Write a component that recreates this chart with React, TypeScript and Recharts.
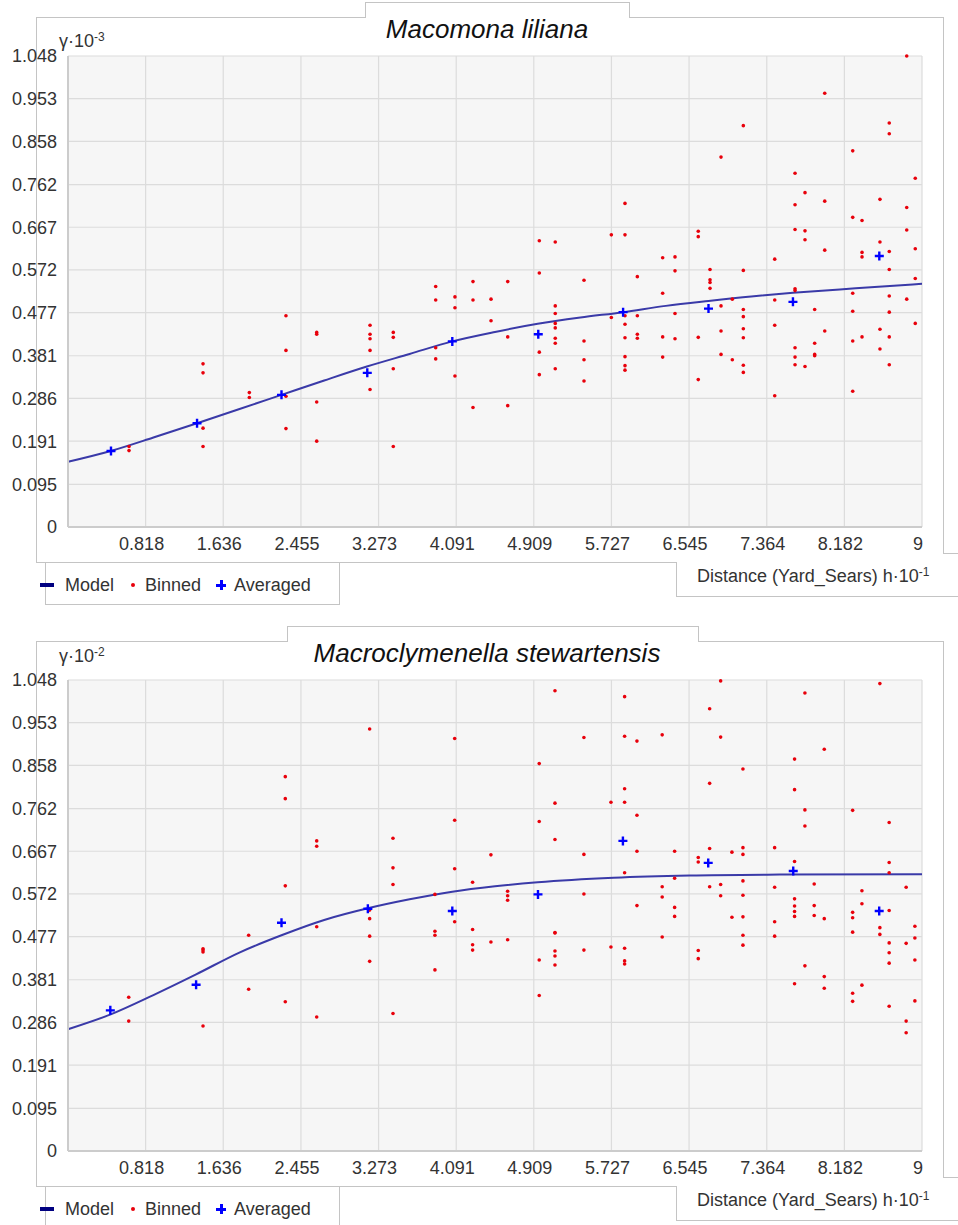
import { ComposedChart, Line, Scatter, XAxis, YAxis, CartesianGrid } from "recharts"

// ticks shared by both panels
const xTicks = [0.818, 1.636, 2.455, 3.273, 4.091, 4.909, 5.727, 6.545, 7.364, 8.182, 9]
const yTicks = [0, 0.095, 0.191, 0.286, 0.381, 0.477, 0.572, 0.667, 0.762, 0.858, 0.953, 1.048]

// Macomona liliana (γ·10^-3)
const macomonaModel = [
    [0, 0.145], [0.45, 0.169], [0.9, 0.199], [1.36, 0.231], [1.8, 0.262], [2.25, 0.294],
    [2.7, 0.326], [3.15, 0.357], [3.6, 0.385], [4.05, 0.413], [4.5, 0.434], [4.95, 0.452],
    [5.4, 0.466], [5.85, 0.478], [6.3, 0.492], [6.75, 0.503], [7.2, 0.513], [7.64, 0.521],
    [8.3, 0.531], [9, 0.541],
]
const macomonaAveraged = [
    [0.453, 0.169], [1.36, 0.231], [2.25, 0.294], [3.154, 0.343], [4.05, 0.413],
    [4.956, 0.429], [5.85, 0.478], [6.75, 0.486], [7.64, 0.501], [8.55, 0.603],
]
const macomonaBinned = [
    [0.643, 0.179], [0.643, 0.17],
    [1.423, 0.363], [1.423, 0.343], [1.423, 0.22], [1.423, 0.179],
    [1.911, 0.299], [1.911, 0.288],
    [2.297, 0.47], [2.297, 0.393], [2.297, 0.291], [2.297, 0.219],
    [2.621, 0.433], [2.621, 0.429], [2.621, 0.278], [2.621, 0.191],
    [3.183, 0.449], [3.183, 0.429], [3.183, 0.419], [3.183, 0.393], [3.183, 0.306],
    [3.428, 0.433], [3.428, 0.422], [3.428, 0.352], [3.428, 0.179],
    [3.875, 0.535], [3.875, 0.505], [3.875, 0.399], [3.875, 0.374],
    [4.078, 0.512], [4.078, 0.488], [4.078, 0.336],
    [4.268, 0.546], [4.268, 0.505], [4.268, 0.266],
    [4.458, 0.507], [4.458, 0.459],
    [4.634, 0.546], [4.634, 0.423], [4.634, 0.27],
    [4.967, 0.637], [4.967, 0.565], [4.967, 0.389], [4.967, 0.339],
    [5.135, 0.634], [5.135, 0.492], [5.135, 0.475], [5.135, 0.453], [5.135, 0.443], [5.135, 0.42], [5.135, 0.409], [5.135, 0.352],
    [5.438, 0.549], [5.438, 0.414], [5.438, 0.372], [5.438, 0.325],
    [5.726, 0.65], [5.726, 0.466],
    [5.87, 0.72], [5.87, 0.65], [5.87, 0.47], [5.87, 0.451], [5.87, 0.421], [5.87, 0.379], [5.87, 0.359], [5.87, 0.349],
    [6.0, 0.557], [6.0, 0.47], [6.0, 0.429], [6.0, 0.42],
    [6.267, 0.599], [6.267, 0.52], [6.267, 0.423], [6.267, 0.378],
    [6.397, 0.601], [6.397, 0.57], [6.397, 0.475], [6.397, 0.419],
    [6.642, 0.658], [6.642, 0.646], [6.642, 0.422], [6.642, 0.328],
    [6.766, 0.573], [6.766, 0.55], [6.766, 0.544], [6.766, 0.531],
    [6.882, 0.823], [6.882, 0.492], [6.882, 0.436], [6.882, 0.384],
    [7.001, 0.507], [7.001, 0.372],
    [7.117, 0.893], [7.117, 0.571], [7.117, 0.484], [7.117, 0.468], [7.117, 0.441], [7.117, 0.421], [7.117, 0.36], [7.117, 0.344],
    [7.448, 0.596], [7.448, 0.505], [7.448, 0.449], [7.448, 0.292],
    [7.662, 0.787], [7.662, 0.717], [7.662, 0.662], [7.662, 0.53], [7.662, 0.526], [7.662, 0.399], [7.662, 0.378], [7.662, 0.361],
    [7.767, 0.744], [7.767, 0.659], [7.767, 0.639], [7.767, 0.357],
    [7.869, 0.484], [7.869, 0.409], [7.869, 0.384], [7.869, 0.381],
    [7.975, 0.965], [7.975, 0.725], [7.975, 0.616], [7.975, 0.436],
    [8.27, 0.837], [8.27, 0.689], [8.27, 0.52], [8.27, 0.48], [8.27, 0.414], [8.27, 0.302],
    [8.368, 0.682], [8.368, 0.611], [8.368, 0.601], [8.368, 0.423],
    [8.557, 0.729], [8.557, 0.634], [8.557, 0.44], [8.557, 0.396],
    [8.655, 0.899], [8.655, 0.875], [8.655, 0.613], [8.655, 0.573], [8.655, 0.514], [8.655, 0.478], [8.655, 0.423], [8.655, 0.361],
    [8.839, 1.048], [8.839, 0.711], [8.839, 0.661], [8.839, 0.507],
    [8.929, 0.776], [8.929, 0.619], [8.929, 0.553], [8.929, 0.453],
]

// Macroclymenella stewartensis (γ·10^-2)
const macroModel = [
    [0, 0.271], [0.45, 0.304], [0.9, 0.347], [1.35, 0.393], [1.8, 0.441], [2.25, 0.48],
    [2.7, 0.514], [3.16, 0.54], [3.6, 0.56], [4.05, 0.577], [4.5, 0.589], [4.95, 0.598],
    [5.75, 0.608], [6.55, 0.613], [7.5, 0.615], [9, 0.616],
]
const macroAveraged = [
    [0.446, 0.313], [1.35, 0.37], [2.25, 0.508], [3.16, 0.539], [4.05, 0.534],
    [4.953, 0.571], [5.848, 0.69], [6.747, 0.641], [7.643, 0.623], [8.549, 0.534],
]
const macroBinned = [
    [0.64, 0.342], [0.64, 0.289],
    [1.423, 0.45], [1.423, 0.447], [1.423, 0.443], [1.423, 0.278],
    [1.904, 0.48], [1.904, 0.36],
    [2.29, 0.833], [2.29, 0.784], [2.29, 0.59], [2.29, 0.332],
    [2.621, 0.69], [2.621, 0.678], [2.621, 0.499], [2.621, 0.298],
    [3.179, 0.939], [3.179, 0.536], [3.179, 0.517], [3.179, 0.478], [3.179, 0.422],
    [3.425, 0.696], [3.425, 0.63], [3.425, 0.593], [3.425, 0.306],
    [3.867, 0.571], [3.867, 0.489], [3.867, 0.48], [3.867, 0.403],
    [4.075, 0.918], [4.075, 0.736], [4.075, 0.628], [4.075, 0.51],
    [4.264, 0.598], [4.264, 0.493], [4.264, 0.459], [4.264, 0.447],
    [4.457, 0.659], [4.457, 0.465],
    [4.633, 0.578], [4.633, 0.568], [4.633, 0.558], [4.633, 0.47],
    [4.966, 0.862], [4.966, 0.733], [4.966, 0.425], [4.966, 0.346],
    [5.132, 1.024], [5.132, 0.774], [5.132, 0.693], [5.132, 0.486], [5.132, 0.485], [5.132, 0.445], [5.132, 0.434], [5.132, 0.414],
    [5.437, 0.92], [5.437, 0.66], [5.437, 0.572], [5.437, 0.447],
    [5.722, 0.776], [5.722, 0.454],
    [5.866, 1.011], [5.866, 0.923], [5.866, 0.806], [5.866, 0.776], [5.866, 0.619], [5.866, 0.451], [5.866, 0.423], [5.866, 0.416],
    [5.996, 0.912], [5.996, 0.747], [5.996, 0.667], [5.996, 0.546],
    [6.262, 0.926], [6.262, 0.588], [6.262, 0.565], [6.262, 0.476],
    [6.393, 0.667], [6.393, 0.607], [6.393, 0.542], [6.393, 0.522],
    [6.642, 0.653], [6.642, 0.643], [6.642, 0.446], [6.642, 0.428],
    [6.762, 0.984], [6.762, 0.818], [6.762, 0.673], [6.762, 0.588],
    [6.878, 1.046], [6.878, 0.921], [6.878, 0.593], [6.878, 0.568],
    [6.997, 0.665], [6.997, 0.52],
    [7.113, 0.85], [7.113, 0.675], [7.113, 0.66], [7.113, 0.601], [7.113, 0.569], [7.113, 0.521], [7.113, 0.48], [7.113, 0.458],
    [7.447, 0.675], [7.447, 0.587], [7.447, 0.51], [7.447, 0.478],
    [7.657, 0.872], [7.657, 0.804], [7.657, 0.644], [7.657, 0.561], [7.657, 0.545], [7.657, 0.533], [7.657, 0.522], [7.657, 0.372],
    [7.766, 1.019], [7.766, 0.759], [7.766, 0.723], [7.766, 0.412],
    [7.864, 0.594], [7.864, 0.546], [7.864, 0.524],
    [7.97, 0.894], [7.97, 0.517], [7.97, 0.388], [7.97, 0.362],
    [8.269, 0.758], [8.269, 0.531], [8.269, 0.519], [8.269, 0.487], [8.269, 0.351], [8.269, 0.333],
    [8.367, 0.579], [8.367, 0.55], [8.367, 0.369],
    [8.556, 1.04], [8.556, 0.497], [8.556, 0.482],
    [8.654, 0.731], [8.654, 0.642], [8.654, 0.619], [8.654, 0.535], [8.654, 0.463], [8.654, 0.441], [8.654, 0.418], [8.654, 0.322],
    [8.833, 0.587], [8.833, 0.462], [8.833, 0.289], [8.833, 0.263],
    [8.925, 0.5], [8.925, 0.474], [8.925, 0.425], [8.925, 0.334],
]

const FONT = '"Liberation Sans", Arial, sans-serif'
const FRAME = "#c4c4c4"
const TEXT = "#333"

const toPoints = (arr: number[][]) => arr.map(([x, y]) => ({ x, y }))

const fmt = (v: number) => (Number.isInteger(v) ? String(v) : v.toFixed(3))

const RedDot = (p: any) => <circle cx={p.cx} cy={p.cy} r={1.8} fill="#e8000b" />

const BluePlus = (p: any) => (
    <path
        d={`M${p.cx - 4.5},${p.cy}H${p.cx + 4.5}M${p.cx},${p.cy - 4.5}V${p.cy + 4.5}`}
        stroke="#0000ff"
        strokeWidth={2.4}
    />
)

const Rule = ({ l, t, w, h }: { l: number; t: number; w: number; h: number }) => (
    <div style={{ position: "absolute", left: l, top: t, width: w, height: h, background: FRAME }} />
)

type PanelProps = {
    top: number
    title: string
    tabLeft: number
    tabRight: number
    exponent: string
    unitTop: number
    model: number[][]
    binned: number[][]
    averaged: number[][]
}

const Panel = ({ top, title, tabLeft, tabRight, exponent, unitTop, model, binned, averaged }: PanelProps) => {
    return (
        <div style={{ position: "absolute", left: 0, top, width: 958, height: 600 }}>
            {/* frame pieces */}
            <Rule l={tabLeft} t={2} w={tabRight - tabLeft} h={1} />
            <Rule l={tabLeft} t={2} w={1} h={16} />
            <Rule l={tabRight} t={2} w={1} h={16} />
            <Rule l={36} t={17} w={tabLeft - 36} h={1} />
            <Rule l={tabRight} t={17} w={943 - tabRight} h={1} />
            <Rule l={943} t={17} w={1} h={537} />
            <Rule l={943} t={553} w={15} h={1} />
            <Rule l={36} t={17} w={1} h={546} />
            <Rule l={36} t={562} w={641} h={1} />
            <Rule l={676} t={562} w={1} h={35} />
            <Rule l={676} t={596} w={282} h={1} />
            <div
                style={{
                    position: "absolute",
                    left: 45,
                    top: 562,
                    width: 293,
                    height: 42,
                    borderLeft: `1px solid ${FRAME}`,
                    borderRight: `1px solid ${FRAME}`,
                    borderBottom: `1px solid ${FRAME}`,
                }}
            />

            <div
                style={{
                    position: "absolute",
                    left: 187,
                    top: 16,
                    width: 600,
                    textAlign: "center",
                    fontSize: 26,
                    lineHeight: "26px",
                    fontStyle: "italic",
                    color: "#111",
                }}
            >
                {title}
            </div>

            <div style={{ position: "absolute", left: 59, top: unitTop, fontSize: 18, lineHeight: "18px", color: TEXT }}>
                γ·10<sup style={{ fontSize: 12, verticalAlign: "6px", lineHeight: 0 }}>{exponent}</sup>
            </div>

            <div style={{ position: "absolute", left: 697, top: 567, fontSize: 18, lineHeight: "18px", color: TEXT }}>
                Distance (Yard_Sears) h·10<sup style={{ fontSize: 12, verticalAlign: "6px", lineHeight: 0 }}>-1</sup>
            </div>

            {/* legend */}
            <div style={{ position: "absolute", left: 40, top: 583, width: 14, height: 4, background: "#000080" }} />
            <div style={{ position: "absolute", left: 65, top: 576, fontSize: 18, lineHeight: "18px", color: TEXT }}>Model</div>
            <div style={{ position: "absolute", left: 131, top: 583, width: 4, height: 4, borderRadius: 2, background: "#e8000b" }} />
            <div style={{ position: "absolute", left: 145, top: 576, fontSize: 18, lineHeight: "18px", color: TEXT }}>Binned</div>
            <div style={{ position: "absolute", left: 216, top: 584, width: 10, height: 3, background: "#0000ff" }} />
            <div style={{ position: "absolute", left: 220, top: 580, width: 3, height: 10, background: "#0000ff" }} />
            <div style={{ position: "absolute", left: 234, top: 576, fontSize: 18, lineHeight: "18px", color: TEXT }}>Averaged</div>

            <div style={{ position: "absolute", left: 0, top: 0 }}>
                <ComposedChart width={958} height={560} margin={{ top: 56, right: 36, left: 8, bottom: 3 }}>
                    <CartesianGrid fill="#f6f6f6" stroke="#dcdcdc" strokeWidth={1.2} />
                    <XAxis
                        type="number"
                        dataKey="x"
                        domain={[0, 9]}
                        ticks={xTicks}
                        interval={0}
                        tickFormatter={fmt}
                        tickSize={0}
                        tickMargin={10}
                        height={30}
                        axisLine={{ stroke: "#cccccc", strokeWidth: 2 }}
                        tick={{ fill: TEXT, fontSize: 18, fontFamily: FONT, dx: -4 }}
                    />
                    <YAxis
                        type="number"
                        dataKey="y"
                        domain={[0, 1.048]}
                        ticks={yTicks}
                        interval={0}
                        tickFormatter={fmt}
                        tickSize={0}
                        tickMargin={11}
                        width={60}
                        axisLine={{ stroke: "#cccccc", strokeWidth: 2 }}
                        tick={{ fill: TEXT, fontSize: 18, fontFamily: FONT }}
                    />
                    <Line
                        data={toPoints(model)}
                        dataKey="y"
                        type="monotone"
                        stroke="#3a3aa8"
                        strokeWidth={2}
                        dot={false}
                        isAnimationActive={false}
                    />
                    <Scatter data={toPoints(binned)} dataKey="y" shape={RedDot} isAnimationActive={false} />
                    <Scatter data={toPoints(averaged)} dataKey="y" shape={BluePlus} isAnimationActive={false} />
                </ComposedChart>
            </div>
        </div>
    )
}

export default function App() {
    return (
        <div
            style={{
                position: "absolute",
                left: 0,
                top: 0,
                width: 958,
                height: 1225,
                background: "#fff",
                fontFamily: FONT,
            }}
        >
            <Panel
                top={0}
                title="Macomona liliana"
                tabLeft={365}
                tabRight={629}
                exponent="-3"
                unitTop={32}
                model={macomonaModel}
                binned={macomonaBinned}
                averaged={macomonaAveraged}
            />
            <Panel
                top={624}
                title="Macroclymenella stewartensis"
                tabLeft={287}
                tabRight={698}
                exponent="-2"
                unitTop={23}
                model={macroModel}
                binned={macroBinned}
                averaged={macroAveraged}
            />
        </div>
    )
}
